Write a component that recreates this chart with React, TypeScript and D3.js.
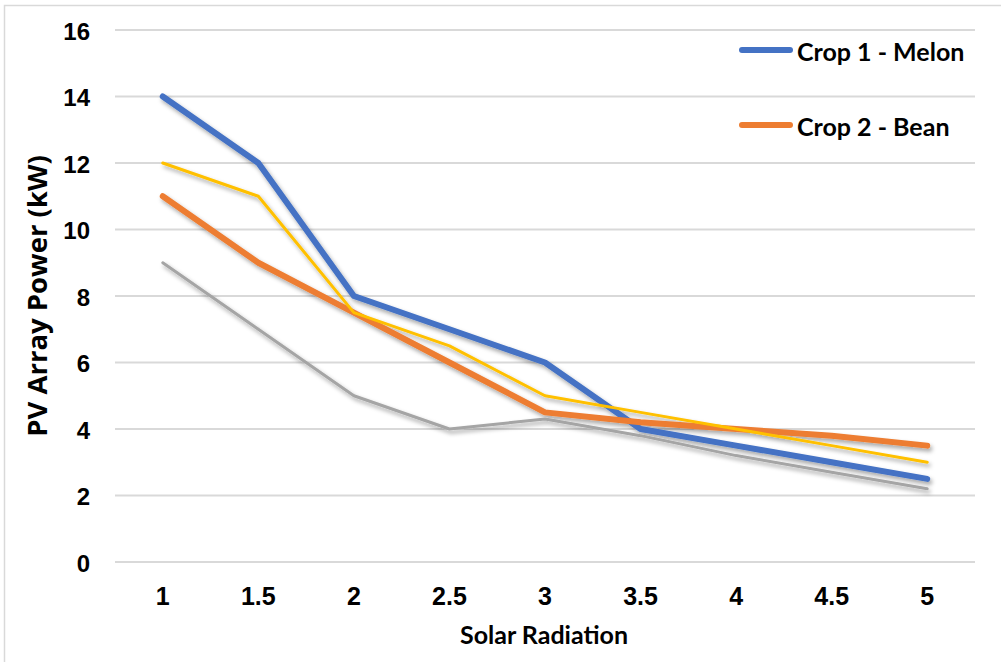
import React from "react";
import * as d3 from "d3";

const categories = ["1", "1.5", "2", "2.5", "3", "3.5", "4", "4.5", "5"];
const melon = [14, 12, 8, 7, 6, 4, 3.5, 3, 2.5];
const bean = [11, 9, 7.5, 6, 4.5, 4.2, 4, 3.8, 3.5];
const series3 = [12, 11, 7.5, 6.5, 5, 4.5, 4, 3.5, 3];
const series4 = [9, 7, 5, 4, 4.3, 3.8, 3.2, 2.7, 2.2];
const yTicks = [0, 2, 4, 6, 8, 10, 12, 14, 16];

const W = 1001;
const H = 662;
const tickFont = "'Liberation Sans', Arial, sans-serif";
const labelFont = "Lato, 'Open Sans', sans-serif";
const yTitleFont = "'Open Sans', sans-serif";

export default function App() {
  const x = d3.scaleBand<string>().domain(categories).range([115, 975]);
  const y = d3.scaleLinear().domain([0, 16]).range([562, 30]);
  const cx = (c: string) => (x(c) as number) + x.bandwidth() / 2;
  const line = (vals: number[]) =>
    d3.line<number>().x((_, i) => cx(categories[i])).y((v) => y(v))(vals) as string;

  const gray = { vals: series4, color: "#A5A5A5", w: 3 };
  const yellow = { vals: series3, color: "#FFC000", w: 3 };
  const orange = { vals: bean, color: "#ED7D31", w: 6 };
  const blue = { vals: melon, color: "#4472C4", w: 6 };
  const order = [gray, blue, orange, yellow];

  const legend = [
    { label: "Crop 1 - Melon", color: "#4472C4", y: 50 },
    { label: "Crop 2 - Bean", color: "#ED7D31", y: 125 },
  ];

  return (
    <div style={{ position: "absolute", left: 0, top: 0 }}>
      <svg width={W} height={H} style={{ display: "block", background: "#fff" }}>
        <defs>
          <filter id="shadow" x="-10%" y="-10%" width="130%" height="130%">
            <feDropShadow dx="2" dy="3" stdDeviation="2" floodColor="#000" floodOpacity="0.35" />
          </filter>
        </defs>
        <rect x={4.5} y={5.5} width={W} height={H} fill="none" stroke="#D9D9D9" strokeWidth={1.5} />
        {yTicks.map((t) => (
          <g key={t}>
            <line x1={115} x2={975} y1={y(t)} y2={y(t)} stroke="#D9D9D9" strokeWidth={2} />
            <text
              x={90}
              y={y(t) + 1}
              textAnchor="end"
              dominantBaseline="central"
              fontFamily={tickFont}
              fontWeight="bold"
              fontSize={24}
              fill="#000"
            >
              {t}
            </text>
          </g>
        ))}
        {categories.map((c) => (
          <text
            key={c}
            x={cx(c)}
            y={596}
            textAnchor="middle"
            dominantBaseline="central"
            fontFamily={tickFont}
            fontWeight="bold"
            fontSize={25}
            fill="#000"
          >
            {c}
          </text>
        ))}
        <g filter="url(#shadow)">
          {order.map((s, i) => (
            <path
              key={i}
              d={line(s.vals)}
              fill="none"
              stroke={s.color}
              strokeWidth={s.w}
              strokeLinejoin="round"
              strokeLinecap="round"
            />
          ))}
        </g>
        {legend.map((l) => (
          <g key={l.label}>
            <line x1={742} x2={790} y1={l.y} y2={l.y} stroke={l.color} strokeWidth={6} strokeLinecap="round" />
            <text
              x={797}
              y={l.y + 1}
              dominantBaseline="central"
              fontFamily={labelFont}
              fontWeight="bold"
              fontSize={25}
              fill="#000"
            >
              {l.label}
            </text>
          </g>
        ))}
        <text
          x={544}
          y={634}
          textAnchor="middle"
          dominantBaseline="central"
          fontFamily={labelFont}
          fontWeight="bold"
          fontSize={25}
          fill="#000"
        >
          Solar Radiation
        </text>
        <text
          transform={`translate(36,${(y(0) + y(16)) / 2}) rotate(-90)`}
          textAnchor="middle"
          dominantBaseline="central"
          fontFamily={yTitleFont}
          fontWeight="bold"
          fontSize={27.5}
          fill="#000"
        >
          PV Array Power (kW)
        </text>
      </svg>
    </div>
  );
}
